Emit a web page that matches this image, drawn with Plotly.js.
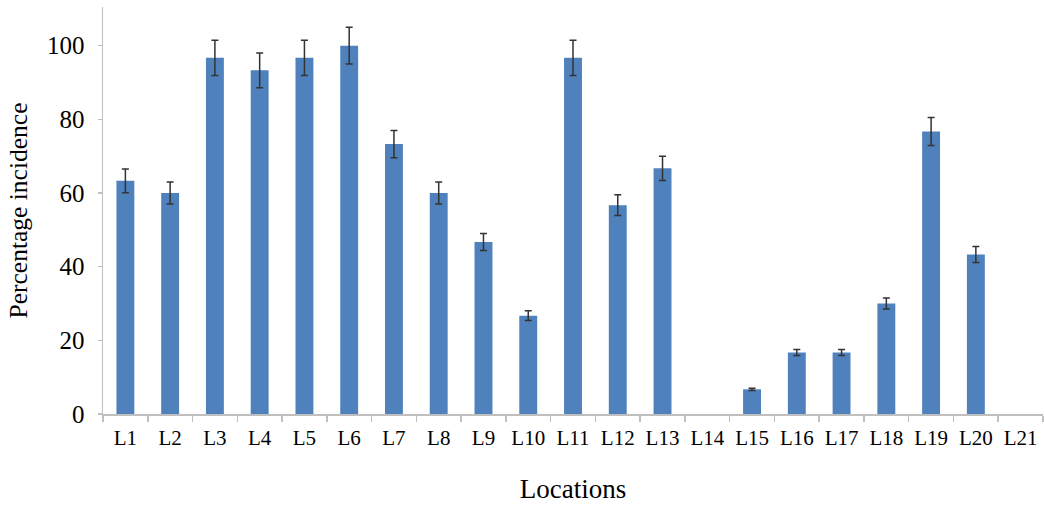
<!DOCTYPE html>
<html>
<head>
<meta charset="utf-8">
<script src="https://cdn.plot.ly/plotly-3.0.1.min.js"></script>
<style>html,body{margin:0;padding:0;background:#fff;}#chart{width:1044px;height:505px;}</style>
</head>
<body>
<div id="chart"></div>
<script>
var locations = ["L1","L2","L3","L4","L5","L6","L7","L8","L9","L10","L11","L12","L13","L14","L15","L16","L17","L18","L19","L20","L21"];
var incidence = [63.3,60,96.7,93.3,96.7,100,73.3,60,46.7,26.7,96.7,56.7,66.7,0,6.7,16.7,16.7,30,76.7,43.3,0];
var errors = [3.2,3.0,4.8,4.7,4.8,5.0,3.7,3.0,2.3,1.3,4.8,2.8,3.3,0,0.3,0.8,0.8,1.5,3.8,2.2,0];
var yTicks = [0,20,40,60,80,100];

// error bars only where a bar exists
var exX = [], exY = [], exE = [];
for (var i = 0; i < locations.length; i++) {
  if (incidence[i] > 0) { exX.push(locations[i]); exY.push(incidence[i]); exE.push(errors[i]); }
}

var bars = {
  type: "bar",
  x: locations,
  y: incidence,
  width: 0.4,
  marker: {color: "#4f81bd", line: {width: 0}},
  hoverinfo: "x+y"
};
var errTrace = {
  type: "scatter",
  mode: "none",
  x: exX,
  y: exY,
  error_y: {type: "data", array: exE, visible: true, color: "#333333", thickness: 1.5, width: 3.5},
  hoverinfo: "skip"
};

var font = "Liberation Serif, Times New Roman, serif";
var layout = {
  width: 1044, height: 505,
  margin: {l: 103, r: 1, t: 7, b: 91},
  paper_bgcolor: "#fff", plot_bgcolor: "#fff",
  showlegend: false,
  font: {family: font, color: "#000"},
  xaxis: {
    type: "category",
    categoryorder: "array", categoryarray: locations,
    range: [-0.5, locations.length - 0.5],
    tickangle: 0,
    showline: true, linecolor: "#bfbfbf", linewidth: 1.5,
    ticks: "outside", tickson: "boundaries", ticklen: 6, tickcolor: "#bfbfbf", tickwidth: 1.5,
    ticklabelstandoff: 4,
    tickfont: {family: font, size: 21, color: "#000"},
    title: {text: "Locations", font: {family: font, size: 27, color: "#000"}, standoff: 30},
    showgrid: false, zeroline: false
  },
  yaxis: {
    range: [0, 110.5],
    tickvals: yTicks, ticktext: yTicks.map(String),
    showline: true, linecolor: "#bfbfbf", linewidth: 1.5,
    ticks: "outside", ticklen: 4, tickcolor: "#bfbfbf", tickwidth: 1.5, ticklabelstandoff: 8,
    tickfont: {family: font, size: 25, color: "#000"},
    title: {text: "Percentage incidence", font: {family: font, size: 25.5, color: "#000"}, standoff: 12},
    showgrid: false, zeroline: false
  },
  bargap: 0.6
};

Plotly.newPlot("chart", [bars, errTrace], layout, {displayModeBar: false, staticPlot: true});
</script>
</body>
</html>
